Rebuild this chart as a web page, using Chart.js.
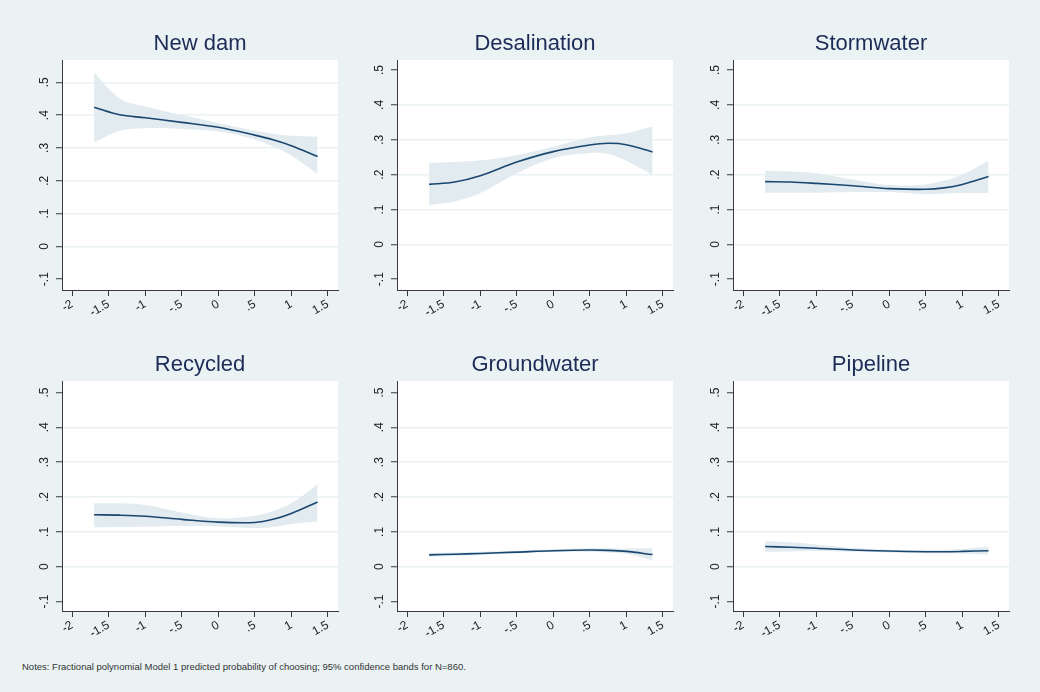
<!DOCTYPE html>
<html>
<head>
<meta charset="utf-8">
<script src="https://cdn.jsdelivr.net/npm/chart.js@4"></script>
<style>
  html, body { margin: 0; padding: 0; }
  body {
    width: 1040px; height: 692px; background: #eaf2f3;
    position: relative; overflow: hidden;
    font-family: "Liberation Sans", Arial, sans-serif;
  }
  canvas { position: absolute; }
  #notes { position: absolute; left: 22px; top: 661px; font-size: 9.5px; color: #333; white-space: nowrap; }
</style>
</head>
<body>
<div id="notes">Notes: Fractional polynomial Model 1 predicted probability of choosing; 95% confidence bands for N=860.</div>
<script>
// data
const titles = ["New dam", "Desalination", "Stormwater", "Recycled", "Groundwater", "Pipeline"];
const xValues = [-1.7, -1.35, -1, -0.5, 0, 0.5, 0.75, 1, 1.36];
const xTicks = [-2, -1.5, -1, -0.5, 0, 0.5, 1, 1.5];
const yTicks = [-0.1, 0, 0.1, 0.2, 0.3, 0.4, 0.5];

const newDamFit = [0.424, 0.401, 0.392, 0.378, 0.363, 0.339, 0.325, 0.307, 0.274];
const newDamUpper = [0.530, 0.451, 0.426, 0.400, 0.376, 0.352, 0.343, 0.337, 0.334];
const newDamLower = [0.316, 0.352, 0.360, 0.358, 0.350, 0.326, 0.305, 0.277, 0.220];

const desalFit = [0.172, 0.179, 0.197, 0.236, 0.266, 0.285, 0.290, 0.286, 0.265];
const desalUpper = [0.233, 0.236, 0.241, 0.256, 0.280, 0.307, 0.313, 0.319, 0.338];
const desalLower = [0.113, 0.123, 0.147, 0.204, 0.247, 0.262, 0.260, 0.240, 0.199];

const stormFit = [0.180, 0.179, 0.175, 0.168, 0.160, 0.158, 0.162, 0.172, 0.195];
const stormUpper = [0.211, 0.209, 0.204, 0.186, 0.170, 0.172, 0.183, 0.200, 0.240];
const stormLower = [0.148, 0.148, 0.148, 0.150, 0.150, 0.144, 0.145, 0.147, 0.147];

const recycledFit = [0.149, 0.148, 0.145, 0.136, 0.128, 0.127, 0.136, 0.153, 0.186];
const recycledUpper = [0.182, 0.182, 0.177, 0.156, 0.139, 0.146, 0.160, 0.182, 0.237];
const recycledLower = [0.113, 0.114, 0.115, 0.117, 0.116, 0.111, 0.114, 0.123, 0.130];

const groundFit = [0.034, 0.036, 0.038, 0.042, 0.046, 0.048, 0.047, 0.044, 0.035];
const groundUpper = [0.040, 0.041, 0.043, 0.046, 0.050, 0.053, 0.053, 0.052, 0.054];
const groundLower = [0.029, 0.031, 0.034, 0.038, 0.042, 0.043, 0.041, 0.037, 0.018];

const pipelineFit = [0.058, 0.056, 0.053, 0.048, 0.045, 0.043, 0.043, 0.044, 0.046];
const pipelineUpper = [0.073, 0.070, 0.064, 0.054, 0.049, 0.048, 0.049, 0.051, 0.058];
const pipelineLower = [0.043, 0.044, 0.045, 0.043, 0.041, 0.039, 0.039, 0.038, 0.035];

const yMins = [-0.133, -0.131, -0.131, -0.127, -0.127, -0.127];
const yMaxs = [0.568, 0.529, 0.529, 0.533, 0.533, 0.533];
const xMin = -2.14;
const xMax = 1.64;

const fits = [newDamFit, desalFit, stormFit, recycledFit, groundFit, pipelineFit];
const uppers = [newDamUpper, desalUpper, stormUpper, recycledUpper, groundUpper, pipelineUpper];
const lowers = [newDamLower, desalLower, stormLower, recycledLower, groundLower, pipelineLower];

// layout
const colLeft = [62, 397, 733];
const rowTop = [60, 381];
const fontFamily = "'Liberation Sans', Arial, sans-serif";
const lineColor = "#1a476f";
const bandColor = "#e2ebf0";
const gridColor = "#eaf2f3";
const axisColor = "#3a3a3a";
const curveTension = 0.35;

function fmt(v) {
  const s = String(Math.round(v * 100) / 100);
  return s.replace(/^(-?)0\./, "$1.");
}

function points(ys) {
  return xValues.map((x, i) => ({ x: x, y: ys[i] }));
}

// white plot region
const plotBackground = {
  id: "plotBackground",
  beforeDraw(chart) {
    const { ctx, chartArea } = chart;
    ctx.save();
    ctx.fillStyle = "#ffffff";
    ctx.fillRect(chartArea.left, chartArea.top, chartArea.right - chartArea.left, chartArea.bottom - chartArea.top);
    ctx.restore();
  },
};

titles.forEach((title, i) => {
  const col = i % 3;
  const row = Math.floor(i / 3);
  const canvas = document.createElement("canvas");
  canvas.width = 336;
  canvas.height = 330;
  canvas.style.left = (colLeft[col] - 50) + "px";
  canvas.style.top = (rowTop[row] - 60) + "px";
  document.body.appendChild(canvas);

  new Chart(canvas.getContext("2d"), {
    type: "line",
    data: {
      datasets: [
        {
          // fitted line first so it is drawn on top
          data: points(fits[i]),
          borderColor: lineColor,
          borderWidth: 1.6,
          pointRadius: 0,
          fill: false,
          tension: curveTension,
        },
        {
          data: points(uppers[i]),
          borderWidth: 0,
          pointRadius: 0,
          backgroundColor: bandColor,
          fill: "+1",
          tension: curveTension,
        },
        {
          data: points(lowers[i]),
          borderWidth: 0,
          pointRadius: 0,
          fill: false,
          tension: curveTension,
        },
      ],
    },
    plugins: [plotBackground],
    options: {
      responsive: false,
      animation: false,
      layout: { padding: { left: 20, right: 10, top: 0, bottom: 0 } },
      plugins: {
        legend: { display: false },
        tooltip: { enabled: false },
        title: {
          display: true,
          text: title,
          fullSize: false,
          color: "#1c2b57",
          font: { family: fontFamily, size: 22, weight: "normal", lineHeight: 1 },
          padding: { top: 33, bottom: 5 },
        },
      },
      scales: {
        x: {
          type: "linear",
          min: xMin,
          max: xMax,
          afterBuildTicks: (scale) => {
            scale.ticks = xTicks.map((v) => ({ value: v }));
          },
          afterFit: (scale) => {
            scale.height = 40;
          },
          grid: {
            drawOnChartArea: false,
            drawTicks: true,
            tickLength: 6,
            tickColor: axisColor,
            tickWidth: 1,
          },
          border: { display: true, color: axisColor, width: 1 },
          ticks: {
            autoSkip: false,
            minRotation: 30,
            maxRotation: 30,
            padding: 1,
            color: "#222",
            font: { family: fontFamily, size: 12 },
            callback: (v) => fmt(v),
          },
        },
        y: {
          type: "linear",
          min: yMins[i],
          max: yMaxs[i],
          afterBuildTicks: (scale) => {
            scale.ticks = yTicks.map((v) => ({ value: v }));
          },
          afterFit: (scale) => {
            scale.width = 30;
          },
          grid: {
            color: (ctx) => {
              const v = ctx.tick ? ctx.tick.value : null;
              if (v === null) return "rgba(0,0,0,0)";
              return v > ctx.scale.min + 0.05 && v < ctx.scale.max - 0.05
                ? gridColor
                : "rgba(0,0,0,0)";
            },
            lineWidth: 1.5,
            drawTicks: true,
            tickLength: 6,
            tickColor: axisColor,
            tickWidth: 1,
          },
          border: { display: true, color: axisColor, width: 1 },
          ticks: {
            minRotation: 90,
            maxRotation: 90,
            crossAlign: "center",
            padding: 4,
            color: "#222",
            font: { family: fontFamily, size: 12 },
            callback: (v) => fmt(v),
          },
        },
      },
    },
  });
});
</script>
</body>
</html>
